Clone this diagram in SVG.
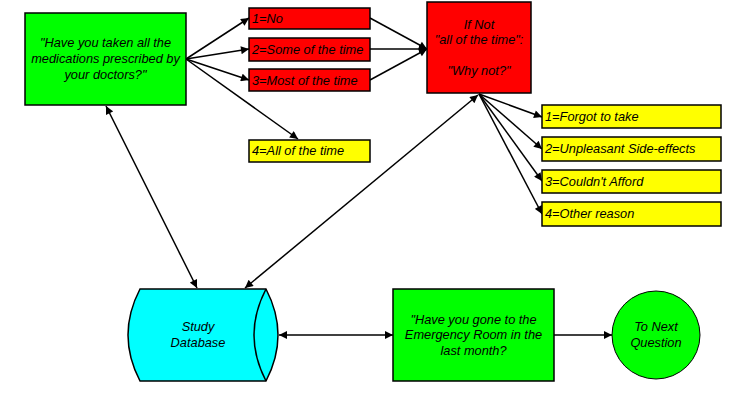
<svg xmlns="http://www.w3.org/2000/svg" width="739" height="393" viewBox="0 0 739 393">
<defs>
<marker id="ah" viewBox="0 0 10 10" refX="10" refY="5" markerWidth="10" markerHeight="8" markerUnits="userSpaceOnUse" orient="auto-start-reverse"><path d="M0,0 L10,5 L0,10 z" fill="#000"/></marker>
<style>
.box{stroke:#000;stroke-width:1.5}
.g{fill:#00ff00}.r{fill:#ff0000}.y{fill:#ffff00}.c{fill:#00ffff}
text{font-family:"Liberation Sans",Arial,sans-serif;font-style:italic;font-size:12.8px;fill:#000}
.m{text-anchor:middle}
.con{stroke:#000;stroke-width:1.5;fill:none}
</style>
</defs>
<rect width="739" height="393" fill="#fff"/>
<g id="connectors">
<line class="con" x1="186" y1="59" x2="249" y2="18" marker-end="url(#ah)"/>
<line class="con" x1="186" y1="59" x2="249" y2="49" marker-end="url(#ah)"/>
<line class="con" x1="186" y1="59" x2="249" y2="80" marker-end="url(#ah)"/>
<line class="con" x1="186" y1="59" x2="298" y2="139" marker-end="url(#ah)"/>
<line class="con" x1="370" y1="18" x2="427" y2="49" marker-end="url(#ah)"/>
<line class="con" x1="370" y1="49" x2="427" y2="49" marker-end="url(#ah)"/>
<line class="con" x1="370" y1="80" x2="427" y2="49" marker-end="url(#ah)"/>
<line class="con" x1="479" y1="94" x2="542" y2="117" marker-end="url(#ah)"/>
<line class="con" x1="479" y1="94" x2="542" y2="149" marker-end="url(#ah)"/>
<line class="con" x1="479" y1="94" x2="542" y2="181" marker-end="url(#ah)"/>
<line class="con" x1="479" y1="94" x2="542" y2="214" marker-end="url(#ah)"/>
<line class="con" x1="106" y1="106" x2="197" y2="288" marker-start="url(#ah)" marker-end="url(#ah)"/>
<line class="con" x1="478" y1="95" x2="245" y2="288" marker-start="url(#ah)" marker-end="url(#ah)"/>
<line class="con" x1="279" y1="335" x2="393" y2="335" marker-start="url(#ah)" marker-end="url(#ah)"/>
<line class="con" x1="554" y1="335" x2="612" y2="335" marker-end="url(#ah)"/>
</g>
<g id="q1">
<rect class="box g" x="25" y="13" width="161" height="92"/>
<text class="m" x="105.5" y="47">"Have you taken all the</text>
<text class="m" x="105.5" y="63">medications prescribed by</text>
<text class="m" x="105.5" y="79">your doctors?"</text>
</g>
<g id="a1"><rect class="box r" x="249" y="8" width="121" height="21"/><text x="252" y="23">1=No</text></g>
<g id="a2"><rect class="box r" x="249" y="38" width="121" height="23"/><text x="252" y="54">2=Some of the time</text></g>
<g id="a3"><rect class="box r" x="249" y="69" width="121" height="22"/><text x="252" y="85">3=Most of the time</text></g>
<g id="a4"><rect class="box y" x="249" y="140" width="121" height="22"/><text x="252" y="155">4=All of the time</text></g>
<g id="whynot">
<rect class="box r" x="427" y="2" width="104" height="91"/>
<text class="m" x="479" y="29">If Not</text>
<text class="m" x="479" y="44">"all of the time":</text>
<text class="m" x="479" y="75">"Why not?"</text>
</g>
<g id="r1"><rect class="box y" x="542" y="105" width="179" height="23"/><text x="545" y="121">1=Forgot to take</text></g>
<g id="r2"><rect class="box y" x="542" y="137" width="179" height="24"/><text x="545" y="153">2=Unpleasant Side-effects</text></g>
<g id="r3"><rect class="box y" x="542" y="170" width="179" height="23"/><text x="545" y="186">3=Couldn't Afford</text></g>
<g id="r4"><rect class="box y" x="542" y="202" width="179" height="24"/><text x="545" y="218">4=Other reason</text></g>
<g id="db">
<path class="box c" d="M140,289 L266,289 Q290,335 266,381 L140,381 Q116,335 140,289 z"/>
<path class="box" fill="none" d="M266,289 Q242,335 266,381"/>
<text class="m" x="198" y="331">Study</text>
<text class="m" x="198" y="347">Database</text>
</g>
<g id="q2">
<rect class="box g" x="393" y="289" width="161" height="92"/>
<text class="m" x="473.5" y="324">"Have you gone to the</text>
<text class="m" x="473.5" y="339">Emergency Room in the</text>
<text class="m" x="473.5" y="355">last month?</text>
</g>
<g id="next">
<circle class="box g" cx="656" cy="335" r="44" style="stroke-width:1"/>
<text class="m" x="656" y="331">To Next</text>
<text class="m" x="656" y="347">Question</text>
</g>
</svg>
